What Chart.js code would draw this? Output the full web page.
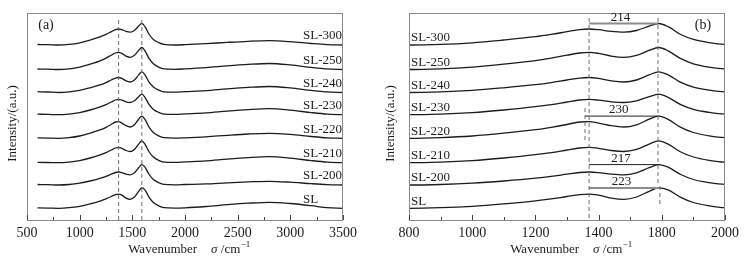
<!DOCTYPE html>
<html>
<head>
<meta charset="utf-8">
<script src="https://cdn.jsdelivr.net/npm/chart.js@4.4.1/dist/chart.umd.min.js"></script>
<style>
  body { margin: 0; background: #fff; }
  #wrap { position: relative; width: 752px; height: 262px; }
  canvas { position: absolute; top: 0; }
</style>
</head>
<body>
<div id="wrap">
  <canvas id="chartA" width="376" height="262" style="left:0"></canvas>
  <canvas id="chartB" width="376" height="262" style="left:376px"></canvas>
</div>
<script>
// wavenumber grid (cm-1) the spectra were read at
const wavenumbers = [600, 700, 800, 900, 1000, 1100, 1200, 1250, 1300, 1340, 1370, 1400, 1440, 1480, 1520, 1560, 1590, 1620, 1660, 1700, 1750, 1800, 1900, 2000, 2200, 2400, 2600, 2800, 3000, 3200, 3350, 3500];

const sampleNames = ["SL-300", "SL-250", "SL-240", "SL-230", "SL-220", "SL-210", "SL-200", "SL"];
// vertical stacking offset of each spectrum (a.u.)
const offsets = [175, 150.5, 127.5, 105.3, 81.7, 57.3, 35, 11.7];

const sl300 = [0.5, 0.3, 0, 0.6, 2.2, 5.0, 8.3, 10.6, 13.3, 15.4, 16, 15.3, 13.6, 12.8, 14.5, 18.9, 21.5, 18.3, 10.5, 5.6, 2.4, 0.6, 0, 0.3, 1.3, 2.6, 3.7, 4.3, 3.3, 1.5, 0.4, 0];
const sl250 = [0.5, 0.3, 0, 0.7, 2.4, 5.3, 8.9, 11.4, 14.3, 16.5, 17.2, 16.1, 13.4, 12.2, 14.2, 19.1, 22, 18.7, 10.8, 5.7, 2.4, 0.6, 0.2, 0.6, 1.8, 3.6, 5.1, 6, 4.6, 2.1, 0.6, 0];
const sl240 = [0.8, 0.5, 0, 0.6, 2.1, 4.7, 7.8, 9.9, 12.5, 14.4, 15, 14.1, 11.6, 10.5, 12.5, 17.6, 20.7, 17.6, 10.1, 5.4, 2.3, 0.6, 0.3, 0.8, 1.8, 3.6, 5.1, 6, 4.6, 2.1, 0.6, 0];
const sl230 = [0.5, 0.3, 0, 0.6, 2.1, 4.7, 8.0, 10.1, 12.7, 14.7, 15.3, 14.6, 12.9, 12.2, 13.9, 18.0, 20.5, 17.4, 10.0, 5.3, 2.3, 0.6, 0.3, 0.8, 1.8, 3.6, 5.1, 6, 4.6, 2.1, 0.6, 0];
const sl220 = [0.4, 0.2, 0, 0.7, 2.3, 5.1, 8.6, 11.0, 13.8, 16.3, 16.6, 15.2, 12.6, 11.3, 13.5, 19.1, 22.2, 18.9, 10.9, 5.8, 2.4, 0.6, 0.2, 0.5, 1.5, 3.0, 4.3, 5, 3.9, 1.8, 0.5, 0];
const sl210 = [0.4, 0.2, 0, 0.6, 2.1, 4.7, 8.0, 10.1, 12.7, 14.7, 15.3, 14.4, 12.2, 11.2, 13.3, 18.6, 21.8, 18.5, 10.7, 5.7, 2.4, 0.6, 0.3, 0.8, 1.8, 3.6, 5.1, 6, 4.6, 2.1, 0.6, 0];
const sl200 = [0.5, 0.3, 0, 0.5, 1.8, 4.0, 6.8, 8.6, 10.8, 12.5, 13, 12.4, 10.9, 10.2, 12.2, 17.3, 20.4, 17.8, 10.5, 5.5, 2.4, 0.6, 0.2, 0.5, 1.1, 2.2, 3.1, 3.7, 2.8, 1.3, 0.4, 0];
const sl = [0.4, 0.2, 0, 0.6, 2.0, 4.4, 7.4, 9.4, 11.8, 13.6, 14.2, 13.1, 10.2, 9, 11.3, 17.0, 20.4, 18.4, 11.0, 5.8, 2.5, 0.6, 0.2, 0.5, 1.8, 3.6, 5.1, 6, 4.8, 2.6, 0.6, 0];
const spectra = [sl300, sl250, sl240, sl230, sl220, sl210, sl200, sl];

// tick labels as printed on panel (b)
const tickLabelsB = ["800", "1000", "1200", "1400", "1800", "2000"];

// dashed guide lines: position, from, to (a.u.)
const guideXA = [1370, 1590];
const guideFromA = [0, 0];
const guideToA = [202, 202];
const guideXB = [1370, 1588, 1594, 1357];
const guideFromB = [2, 37, 16, 80];
const guideToB = [205, 202, 35, 113];

// band separation markers on panel (b)
const gapLabels = ["214", "230", "217", "223"];
const gapStart = [1370, 1357, 1370, 1370];
const gapEnd = [1588, 1590, 1590, 1594];
const gapLevel = [196.4, 103.9, 55.4, 32.1];
const gapColors = ["#8c8c8c", "#222", "#222", "#8c8c8c"];
const gapWidths = [2, 1, 1, 2];

const serif = "'Liberation Serif', 'Times New Roman', serif";
const ink = "#1c1c1c";

function spectrumDatasets() {
  return spectra.map((values, i) => ({
    data: wavenumbers.map((w, j) => ({ x: w, y: values[j] + offsets[i] })),
    borderColor: ink,
    borderWidth: 1.3,
    pointRadius: 0,
    cubicInterpolationMode: "monotone",
  }));
}

function guideDatasets(xs, from, to) {
  return xs.map((x, i) => ({
    data: [{ x: x, y: from[i] }, { x: x, y: to[i] }],
    borderColor: "#6e6e6e",
    borderWidth: 1,
    borderDash: [4, 3],
    pointRadius: 0,
    tension: 0,
  }));
}

function gapDatasets() {
  return gapLabels.map((_, i) => ({
    data: [{ x: gapStart[i], y: gapLevel[i] }, { x: gapEnd[i], y: gapLevel[i] }],
    borderColor: gapColors[i],
    borderWidth: gapWidths[i],
    pointRadius: 0,
    tension: 0,
  }));
}

function drawXTitle(ctx, cx, cy) {
  const reg = `13px ${serif}`;
  const ital = `italic 13px ${serif}`;
  const small = `9px ${serif}`;
  ctx.font = reg;
  const w1 = ctx.measureText("Wavenumber").width;
  const w3 = ctx.measureText(" /cm").width;
  ctx.font = ital;
  const w2 = ctx.measureText("σ").width;
  ctx.font = small;
  const w4 = ctx.measureText("−1").width;
  const gap = 14;
  let x = cx - (w1 + gap + w2 + w3 + w4) / 2;
  ctx.textAlign = "left";
  ctx.textBaseline = "middle";
  ctx.font = reg;
  ctx.fillText("Wavenumber", x, cy);
  x += w1 + gap;
  ctx.font = ital;
  ctx.fillText("σ", x, cy);
  x += w2;
  ctx.font = reg;
  ctx.fillText(" /cm", x, cy);
  x += w3;
  ctx.font = small;
  ctx.fillText("−1", x + 0.5, cy - 5);
}

const framePlugin = {
  id: "frame",
  afterDraw(chart, args, opts) {
    const {
      ctx,
      chartArea: { left, right, top, bottom },
      scales: { x, y },
    } = chart;
    ctx.save();

    // box around plot
    ctx.strokeStyle = "#8a8a8a";
    ctx.lineWidth = 1;
    ctx.strokeRect(left + 0.5, top + 0.5, right - left - 1, bottom - top);

    // inward ticks on the bottom axis
    ctx.strokeStyle = "#444";
    ctx.beginPath();
    opts.major.forEach((v) => {
      const px = Math.round(x.getPixelForValue(v)) + 0.5;
      ctx.moveTo(px, bottom);
      ctx.lineTo(px, bottom - 5);
    });
    opts.minor.forEach((v) => {
      const px = Math.round(x.getPixelForValue(v)) + 0.5;
      ctx.moveTo(px, bottom);
      ctx.lineTo(px, bottom - 3);
    });
    ctx.stroke();

    ctx.fillStyle = ink;

    // y title
    ctx.save();
    ctx.translate(opts.yTitleX, (top + bottom) / 2 + 7);
    ctx.rotate(-Math.PI / 2);
    ctx.font = `13px ${serif}`;
    ctx.textAlign = "center";
    ctx.textBaseline = "middle";
    ctx.fillText("Intensity/(a.u.)", 0, 0);
    ctx.restore();

    drawXTitle(ctx, (left + right) / 2 + 4, 250);

    // panel tag
    ctx.font = `14px ${serif}`;
    ctx.textAlign = "center";
    ctx.textBaseline = "middle";
    ctx.fillText(opts.tag, opts.tagFromRight ? right - 22 : left + 19, top + 12);

    // sample names
    ctx.font = `13px ${serif}`;
    ctx.textAlign = "left";
    sampleNames.forEach((name, i) => {
      ctx.fillText(name, x.getPixelForValue(opts.labelX), y.getPixelForValue(offsets[i] + opts.labelDy));
    });

    // separation values
    if (opts.gaps) {
      ctx.textAlign = "center";
      gapLabels.forEach((t, i) => {
        const cx = (x.getPixelForValue(gapStart[i]) + x.getPixelForValue(gapEnd[i])) / 2 - 3;
        ctx.fillText(t, cx, y.getPixelForValue(gapLevel[i]) - 6.5);
      });
    }
    ctx.restore();
  },
};

function makeChart(id, cfg) {
  return new Chart(document.getElementById(id), {
    type: "line",
    data: { datasets: cfg.datasets },
    options: {
      responsive: false,
      animation: false,
      layout: { padding: { top: 13, right: cfg.padRight, left: 0, bottom: 0 } },
      plugins: {
        legend: { display: false },
        tooltip: { enabled: false },
        frame: cfg.frame,
      },
      scales: {
        x: {
          type: "linear",
          min: cfg.min,
          max: cfg.max,
          grid: { display: false, drawTicks: false },
          border: { display: false },
          ticks: {
            stepSize: cfg.step,
            autoSkip: false,
            maxRotation: 0,
            padding: 5,
            color: ink,
            font: { family: serif, size: 14 },
            callback: cfg.tickText,
          },
          afterFit: (s) => {
            s.height = 42;
          },
        },
        y: {
          min: 0,
          max: 207,
          grid: { display: false, drawTicks: false },
          border: { display: false },
          ticks: { display: false },
          afterFit: (s) => {
            s.width = cfg.yWidth;
          },
        },
      },
    },
    plugins: [framePlugin],
  });
}

makeChart("chartA", {
  datasets: [...guideDatasets(guideXA, guideFromA, guideToA), ...spectrumDatasets()],
  min: 500,
  max: 3500,
  step: 500,
  tickText: (v) => String(v),
  padRight: 33,
  yWidth: 27,
  frame: {
    major: [500, 1000, 1500, 2000, 2500, 3000, 3500],
    minor: [750, 1250, 1750, 2250, 2750, 3250],
    yTitleX: 13,
    tag: "(a)",
    tagFromRight: false,
    labelX: 3120,
    labelDy: 9,
    gaps: false,
  },
});

makeChart("chartB", {
  datasets: [...guideDatasets(guideXB, guideFromB, guideToB), ...gapDatasets(), ...spectrumDatasets()],
  min: 800,
  max: 1800,
  step: 200,
  tickText: (v, i) => tickLabelsB[i],
  padRight: 27,
  yWidth: 33,
  frame: {
    major: [800, 1000, 1200, 1400, 1600, 1800],
    minor: [900, 1100, 1300, 1500, 1700],
    yTitleX: 15,
    tag: "(b)",
    tagFromRight: true,
    labelX: 806,
    labelDy: 7,
    gaps: true,
  },
});
</script>
</body>
</html>
